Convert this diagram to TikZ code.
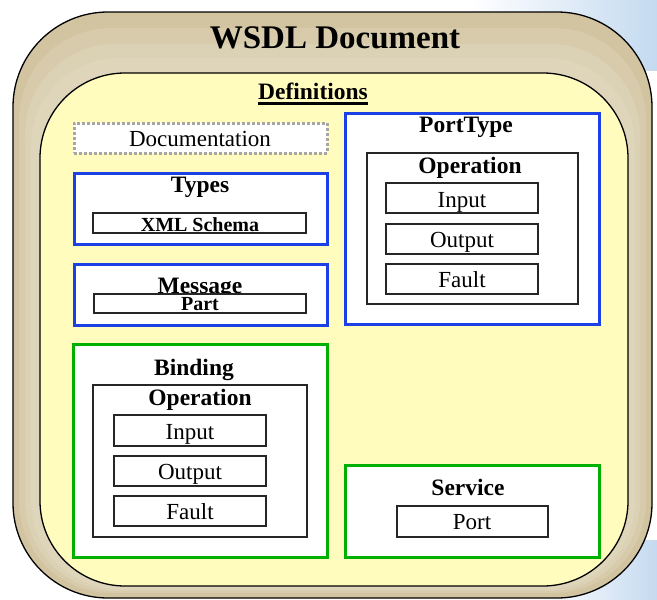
\documentclass[tikz,border=0pt]{standalone}
\usepackage{fontspec}
\setmainfont{Liberation Serif}
\usetikzlibrary{fit}
\definecolor{tanA}{RGB}{210,196,160}
\definecolor{tanB}{RGB}{215,203,171}
\definecolor{tanC}{RGB}{219,209,180}
\definecolor{tanD}{RGB}{222,213,186}
\definecolor{defyellow}{RGB}{255,252,190}
\definecolor{frameblue}{RGB}{26,64,230}
\definecolor{framegreen}{RGB}{0,176,0}
\definecolor{skyblue}{RGB}{196,218,240}
\tikzset{
  blueframe/.style={draw=frameblue, line width=3pt, fill=white, inner sep=0pt},
  greenframe/.style={draw=framegreen, line width=3pt, fill=white, inner sep=0pt},
  docframe/.style={draw=gray!70, line width=3pt, dash pattern=on 3pt off 2pt, fill=white, inner sep=0pt},
  innerbox/.style={draw=black!85, line width=1.2pt, fill=white, inner sep=0pt},
  titletext/.style={inner sep=0pt, anchor=base, font=\fontsize{23.5}{26}\selectfont\bfseries},
  subtitletext/.style={inner sep=0pt, anchor=base, font=\fontsize{20}{22}\selectfont\bfseries},
  plaintext/.style={inner sep=0pt, anchor=base, font=\fontsize{23}{25}\selectfont},
}
\begin{document}
\begin{tikzpicture}[x=1pt,y=-1pt]
\useasboundingbox (0,0) rectangle (657,600);
% background sky
\fill[left color=white, right color=skyblue] (470,0) rectangle (657,70);
\fill[left color=white, right color=skyblue] (540,540) rectangle (657,600);
% outer document shape
\path[draw=black, line width=1.3pt, fill=tanA, rounded corners=95] (13,12) rectangle (652,598);
\fill[tanB, rounded corners=92] (19,28) rectangle (646,593);
\fill[tanC, rounded corners=90] (25,44) rectangle (640,591);
\fill[tanD, rounded corners=88] (31,58) rectangle (635,589);
\path[draw=black, line width=1.3pt, fill=defyellow, rounded corners=85] (40,73) rectangle (628,586);
\node[inner sep=0pt, anchor=base, font=\fontsize{33}{36}\selectfont\bfseries] (wsdlT) at (335,48) {WSDL Document};
\node[titletext] (defT) at (313,99) {Definitions};
\draw[line width=2.5pt] ([yshift=-4.5pt]defT.base west) -- ([yshift=-4.5pt]defT.base east);
% Documentation
\node[docframe, fit={(74,123) (327,153)}] (doc) {};
\node[plaintext] (docT) at (200,146) {Documentation};
% Types
\node[blueframe, fit={(74,173) (327,244)}] (types) {};
\node[titletext] (typesT) at (200,192) {Types};
\node[innerbox, fit={(93,213) (306,233)}] (xsd) {};
\node[subtitletext] (xsdT) at (200,231) {XML Schema};
% Message
\node[blueframe, fit={(74,264) (327,325)}] (msg) {};
\node[titletext] (msgT) at (200,293) {Message};
\node[innerbox, fit={(94,294) (306,313)}] (part) {};
\node[subtitletext] (partT) at (200,310) {Part};
% PortType
\node[blueframe, fit={(345,113) (599,324)}] (pt) {};
\node[titletext] (ptT) at (466,132) {PortType};
\node[innerbox, fit={(367,153) (578,304)}] (ptop) {};
\node[titletext] (ptopT) at (470,173) {Operation};
\node[innerbox, fit={(386,183) (538,213)}] (ptin) {};
\node[plaintext] (ptinT) at (462,207) {Input};
\node[innerbox, fit={(386,224) (538,254)}] (ptout) {};
\node[plaintext] (ptoutT) at (462,247) {Output};
\node[innerbox, fit={(386,264) (538,294)}] (ptfault) {};
\node[plaintext] (ptfaultT) at (462,287) {Fault};
% Binding
\node[greenframe, fit={(73,344) (327,557)}] (bind) {};
\node[titletext] (bindT) at (194,375) {Binding};
\node[innerbox, fit={(93,385) (307,537)}] (bop) {};
\node[titletext] (bopT) at (200,405) {Operation};
\node[innerbox, fit={(114,415) (266,446)}] (bin) {};
\node[plaintext] (binT) at (190,439) {Input};
\node[innerbox, fit={(114,456) (266,486)}] (bout) {};
\node[plaintext] (boutT) at (190,479) {Output};
\node[innerbox, fit={(114,496) (266,526)}] (bfault) {};
\node[plaintext] (bfaultT) at (190,519) {Fault};
% Service
\node[greenframe, fit={(345,465) (599,557)}] (svc) {};
\node[titletext] (svcT) at (468,495) {Service};
\node[innerbox, fit={(397,506) (548,537)}] (port) {};
\node[plaintext] (portT) at (472,529) {Port};
\end{tikzpicture}
\end{document}
